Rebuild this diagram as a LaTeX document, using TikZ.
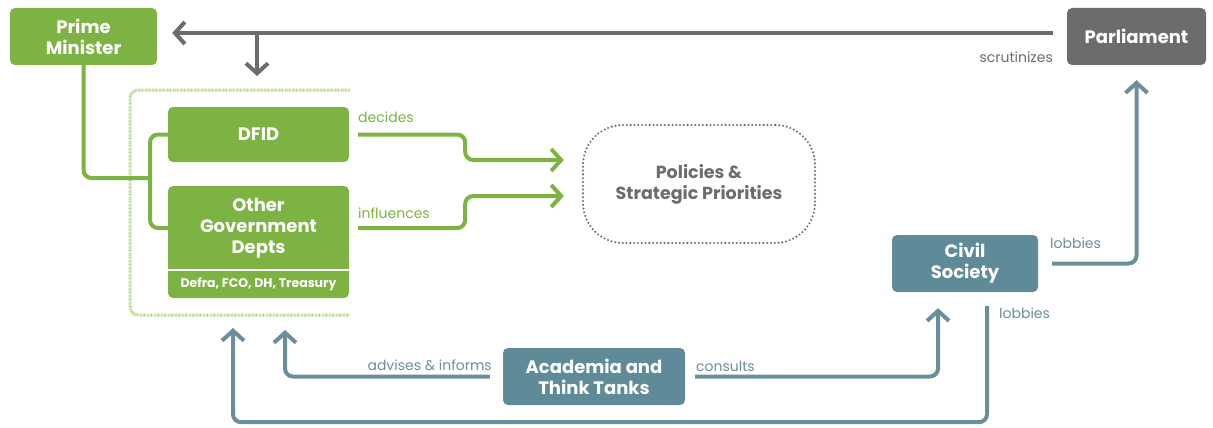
\documentclass[tikz,border=0pt]{standalone}
\usepackage{fontspec}
\setmainfont{Poppins}
\usepackage{tikz}
\usetikzlibrary{arrows.meta, positioning, calc}
\definecolor{leaf}{HTML}{7CB342}
\definecolor{leaflight}{HTML}{AFD27F}
\definecolor{slate}{HTML}{6B6C6E}
\definecolor{steel}{HTML}{5F8A97}
\definecolor{steelline}{HTML}{6A8F9B}
\newcommand{\boxfont}{\fontsize{18}{21}\selectfont\bfseries}

\begin{document}
\begin{tikzpicture}[
    x=1pt, y=-1pt,
    every node/.style={font=\fontsize{14}{16}\selectfont},
    block/.style={rectangle, rounded corners=5pt, text=white,
                  align=center, inner sep=0pt, font=\boxfont},
    greenblock/.style={block, fill=leaf},
    grayblock/.style={block, fill=slate},
    steelblock/.style={block, fill=steel},
    link/.style={line width=4pt, rounded corners=8pt},
    arrow/.style={link, -{Straight Barb[length=10pt, width=22pt]}},
    tag/.style={inner sep=0pt}
]
\useasboundingbox (0,0) rectangle (1213,428);

\node[greenblock, minimum width=147pt, minimum height=57pt] (pm)
     at (83.5,36.5) {Prime\\Minister};
\node[grayblock, minimum width=139pt, minimum height=57pt] (parl)
     at (1136.5,36.5) {Parliament};

\node[greenblock, minimum width=181pt, minimum height=55pt] (dfid)
     at (258.5,134.5) {DFID};
\node[greenblock, minimum width=181pt, minimum height=112pt] (ogd)
     at (258.5,242) {};
\node[font=\boxfont, text=white, align=center, inner sep=0pt] (ogdname)
     at (258.5,228) {Other\\Government\\Depts};
\node[font=\fontsize{12.5}{14}\selectfont\bfseries, text=white, inner sep=0pt]
     (ogdsub) at (258.5,284.5) {Defra, FCO, DH, Treasury};
\draw[white, line width=1.5pt] ([yshift=28pt]ogd.south west)
     -- ([yshift=28pt]ogd.south east);

\node[draw=slate, line width=2.3pt, dash pattern=on 0pt off 3.8pt,
      line cap=round, rounded corners=40pt, minimum width=232pt,
      minimum height=118pt, align=center, text=slate,
      font=\fontsize{17.5}{21}\selectfont\bfseries]
     (policy) at (699,184) {Policies \&\\Strategic Priorities};

\node[steelblock, minimum width=146pt, minimum height=57pt] (civil)
     at (965,263.5) {Civil\\Society};
\node[steelblock, minimum width=182pt, minimum height=57pt] (acad)
     at (594,376.5) {Academia and\\Think Tanks};

% government frame
\coordinate (govNW) at (130,90);
\coordinate (govSE) at (350,315);
\draw[leaflight, line width=3pt, dash pattern=on 0.7pt off 0.7pt,
      rounded corners=8pt]
     (govNW -| govSE) -- (govNW) -- (govNW |- govSE) -- (govSE);

% scrutiny
\coordinate (split) at (257,33);
\draw[arrow, slate] ([xshift=-14pt,yshift=3.5pt]parl.west)
     -- ([xshift=15pt,yshift=3.5pt]pm.east);
\draw[arrow, slate, shorten >=14pt] (split) -- (split |- govNW);

% prime minister to departments
\coordinate (fork) at (150,178);
\draw[link, leaf] (pm.south) |- (fork);
\draw[link, leaf] (dfid.west) -| (fork) |- (ogd.west |- ogdname);

% decisions
\draw[arrow, leaf] ([xshift=9pt]dfid.east) -- ++(107,0)
     |- ([xshift=-18pt,yshift=24pt]policy.west);
\draw[arrow, leaf] ($(ogd.east |- ogdname)+(9,0)$) -- ++(107,0)
     |- ([xshift=-18pt,yshift=-12pt]policy.west);

% civil society and academia
\coordinate (lobbyIn) at (233,315);
\coordinate (adviseIn) at (285,315);
\draw[arrow, steelline, shorten >=15pt] ([xshift=14pt]civil.east)
     -| (parl.south);
\draw[arrow, steelline, shorten >=13pt] ($(civil.south)+(22,14)$)
     -- ++(0,116) -| (lobbyIn);
\draw[arrow, steelline, shorten >=15pt] ([xshift=-13pt]acad.west)
     -| (adviseIn);
\draw[arrow, steelline, shorten >=16pt] ([xshift=10pt]acad.east)
     -| ([xshift=-27pt]civil.south);

\node[tag, text=slate, anchor=east] (scrutLbl) at (1053,57) {scrutinizes};
\node[tag, text=leaf, anchor=west] (decLbl) at (358,117.5) {decides};
\node[tag, text=leaf, anchor=west] (infLbl) at (358,213) {influences};
\node[tag, text=steelline, anchor=west] (lobParlLbl) at (1050,243)
     {lobbies};
\node[tag, text=steelline, anchor=west] (lobGovLbl) at (999,313)
     {lobbies};
\node[tag, text=steelline, anchor=east] (advLbl) at (492,365)
     {advises \& informs};
\node[tag, text=steelline, anchor=west] (conLbl) at (696,366)
     {consults};

\end{tikzpicture}
\end{document}
